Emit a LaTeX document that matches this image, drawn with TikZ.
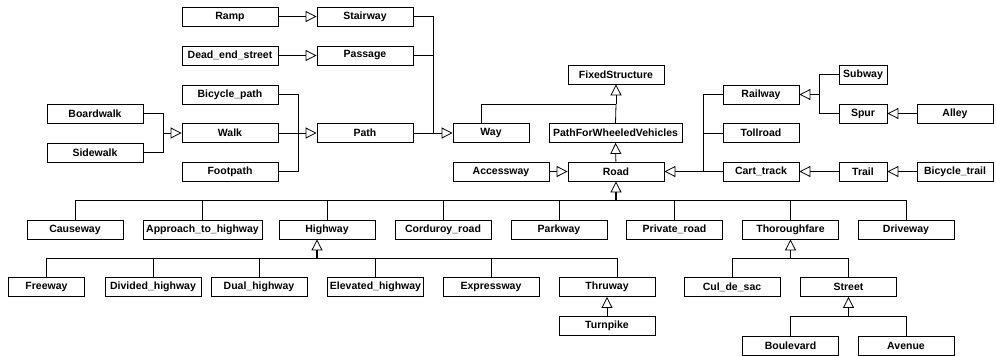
\documentclass[tikz,border=0pt]{standalone}
\usepackage{fontspec}
\setmainfont{Liberation Sans}
\usetikzlibrary{arrows.meta}

\begin{document}
\begin{tikzpicture}[
            > = {Triangle[open, length=11pt, width=11pt, line width=0.8pt]}, % hollow inheritance head
            x = 1pt, y = -1pt, % pixel grid, y runs down
            line width = 0.8pt, % line style
            font = \bfseries\fontsize{10.5}{12}\selectfont
        ]

        \tikzstyle{cls}=[
            draw = black,
            line width = 0.8pt,
            fill = white,
            inner sep = 0pt,
            minimum width = 96pt,
            minimum height = 19pt
        ]
        \tikzstyle{narrow}=[cls, minimum width = 76pt]
        \tikzstyle{tiny}=[cls, minimum width = 48pt]
        \tikzstyle{stem}=[line width = 1.6pt]

        \useasboundingbox (0,0) rectangle (996,356);

        % ways for people
        \node[cls] (ramp) at (230,16.5) {Ramp};
        \node[cls] (stair) at (365,16.5) {Stairway};
        \node[cls] (deadend) at (230,55.5) {Dead\_end\_street};
        \node[cls] (passage) at (365,55.5) {Passage};
        \node[cls] (bikepath) at (230,94.5) {Bicycle\_path};
        \node[cls] (board) at (95,113.5) {Boardwalk};
        \node[cls] (walk) at (230,133) {Walk};
        \node[cls] (path) at (365,133) {Path};
        \node[cls] (side) at (95,152.5) {Sidewalk};
        \node[cls] (foot) at (230,171.5) {Footpath};
        \node[narrow] (way) at (491,133) {Way};

        % top of the tree
        \node[cls] (fixed) at (616,74.5) {FixedStructure};
        \node[cls, minimum width=133pt] (wheeled) at (615.5,133) {PathForWheeledVehicles};
        \node[cls] (road) at (616,171.5) {Road};
        \node[cls] (access) at (501,171.5) {Accessway};

        % rails and tracks
        \node[narrow] (rail) at (761,94.5) {Railway};
        \node[narrow] (toll) at (761,133) {Tollroad};
        \node[narrow] (cart) at (761,171.5) {Cart\_track};
        \node[tiny] (subway) at (863,74.5) {Subway};
        \node[tiny] (spur) at (863,113.5) {Spur};
        \node[narrow] (alley) at (955,113.5) {Alley};
        \node[tiny] (trail) at (863,171.5) {Trail};
        \node[narrow] (biketrail) at (955,171.5) {Bicycle\_trail};

        % kinds of road
        \node[cls] (causeway) at (75,229.5) {Causeway};
        \node[cls, minimum width=119pt] (approach) at (202.5,229.5) {Approach\_to\_highway};
        \node[cls] (highway) at (327,229.5) {Highway};
        \node[cls] (corduroy) at (443,229.5) {Corduroy\_road};
        \node[cls] (parkway) at (559,229.5) {Parkway};
        \node[cls] (private) at (674.5,229.5) {Private\_road};
        \node[cls] (thorough) at (790.5,229.5) {Thoroughfare};
        \node[cls] (drive) at (906,229.5) {Driveway};

        % kinds of highway and thoroughfare
        \node[narrow] (freeway) at (46.5,287) {Freeway};
        \node[cls] (divided) at (153,287) {Divided\_highway};
        \node[cls] (dual) at (259,287) {Dual\_highway};
        \node[cls] (elevated) at (375.5,287) {Elevated\_highway};
        \node[cls] (express) at (491,287) {Expressway};
        \node[cls] (thruway) at (607,287) {Thruway};
        \node[cls] (turnpike) at (607,326) {Turnpike};
        \node[cls] (culdesac) at (732,287) {Cul\_de\_sac};
        \node[cls] (street) at (848.5,287) {Street};
        \node[cls] (boulevard) at (790.5,345.5) {Boulevard};
        \node[cls] (avenue) at (906,345.5) {Avenue};

        % joints where branches meet
        \coordinate (walkjoin) at (163,133);
        \coordinate (pathjoin) at (298,133);
        \coordinate (wayjoin) at (433,133);
        \coordinate (fixedjoin) at (616,104);
        \coordinate (railjoin) at (703,171.5);
        \coordinate (subjoin) at (819,94.5);
        \coordinate (roadjoin) at (616,200);
        \coordinate (highjoin) at (317,258);
        \coordinate (thorjoin) at (790.5,258);
        \coordinate (streetjoin) at (848.5,316);

        \draw (board.east) -| (walkjoin);
        \draw (side.east) -| (walkjoin);
        \path[->] (walkjoin) edge (walk.west);

        \draw (bikepath.east) -| (pathjoin);
        \draw (foot.east) -| (pathjoin);
        \draw (walk.east) -- (pathjoin);
        \path[->] (pathjoin) edge (path.west);

        \draw (stair.east) -| (wayjoin);
        \draw (passage.east) -| (wayjoin);
        \draw (path.east) -- (wayjoin);
        \path[->] (wayjoin) edge (way.west);
        \path[->] (ramp) edge (stair);
        \path[->] (deadend) edge (passage);

        \draw ([xshift=-10pt]way.north) |- (fixedjoin);
        \draw (wheeled.north) -- (fixedjoin);
        \path[->] (fixedjoin) edge (fixed.south);
        \path[->] (road) edge (wheeled);
        \path[->] (access) edge (road);

        \draw (rail.west) -| (railjoin);
        \draw (toll.west) -| (railjoin);
        \draw (cart.west) -- (railjoin);
        \path[->, stem] (railjoin) edge (road.east);

        \draw (subway.west) -| (subjoin);
        \draw (spur.west) -| (subjoin);
        \path[->] (subjoin) edge (rail.east);
        \path[->] (alley) edge (spur);
        \path[->] (trail) edge (cart);
        \path[->] (biketrail) edge (trail);

        \foreach \kid in {causeway, approach, highway, corduroy, parkway, private, thorough, drive}
            \draw (\kid.north) |- (roadjoin);
        \path[->, stem] (roadjoin) edge (road.south);

        \foreach \kid in {freeway, divided, dual, elevated, express}
            \draw (\kid.north) |- (highjoin);
        \draw ([xshift=10pt]thruway.north) |- (highjoin);
        \path[->, stem] (highjoin) edge ([xshift=-10pt]highway.south);
        \path[->] (turnpike) edge (thruway);

        \draw (culdesac.north) |- (thorjoin);
        \draw (street.north) |- (thorjoin);
        \path[->] (thorjoin) edge (thorough.south);

        \draw (boulevard.north) |- (streetjoin);
        \draw (avenue.north) |- (streetjoin);
        \path[->] (streetjoin) edge (street.south);

  \end{tikzpicture}
\end{document}
